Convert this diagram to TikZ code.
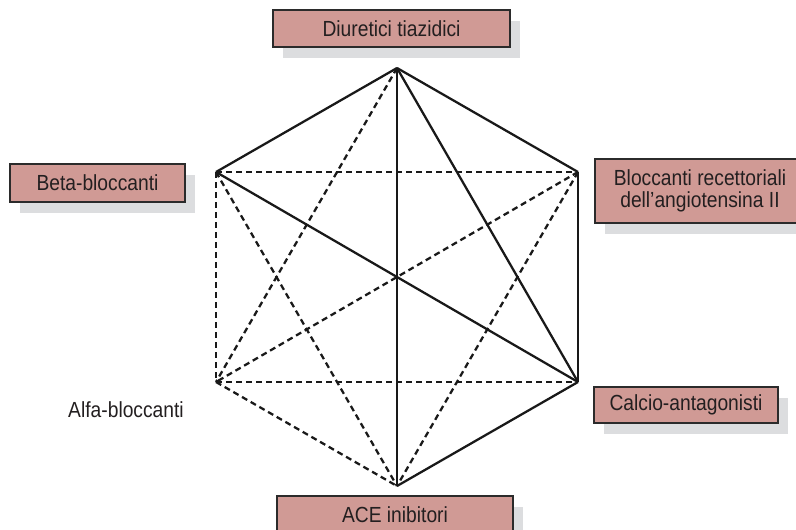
\documentclass[tikz,border=0pt]{standalone}
\usepackage{fontspec}
\setmainfont{Liberation Sans}[FakeStretch=0.88]
\usetikzlibrary{shadows}
\definecolor{boxfill}{HTML}{D09A95}
\definecolor{boxline}{HTML}{2B2B2B}
\definecolor{shadegray}{HTML}{DCDDDF}
\definecolor{textgray}{HTML}{231F20}
\begin{document}
\begin{tikzpicture}[x=0.75pt, y=-0.75pt,
  every node/.style={font=\fontsize{16.4}{16.4}\selectfont, text=textgray},
  drug/.style={draw=boxline, line width=1pt, fill=boxfill, inner sep=0pt, align=center,
    drop shadow={shadow xshift=7.5pt, shadow yshift=-8.25pt, fill=shadegray, opacity=1}},
  edge/.style={line width=1.7pt, draw=black!90},
  weak/.style={edge, dash pattern=on 4.5pt off 3pt}]
  \useasboundingbox (0, 0) rectangle (796, 529);
  \clip (0, 0) rectangle (796, 529);

  % hexagon corners
  \coordinate (t) at (397, 68);
  \coordinate (ur) at (578, 172);
  \coordinate (lr) at (578, 382);
  \coordinate (b) at (397, 486);
  \coordinate (ll) at (216, 382);
  \coordinate (ul) at (216, 172);

  \draw[weak] (ul) -- (ur);
  \draw[weak] (ul) -- (ll);
  \draw[weak] (ul) -- (b);
  \draw[weak] (ur) -- (ll);
  \draw[weak] (ur) -- (b);
  \draw[weak] (ll) -- (lr);
  \draw[weak] (ll) -- (b);
  \draw[weak] (t) -- (ll);

  \draw[edge] (t) -- (ur);
  \draw[edge] (t) -- (ul);
  \draw[edge] (t) -- (b);
  \draw[edge] (t) -- (lr);
  \draw[edge] (ur) -- (lr);
  \draw[edge] (lr) -- (b);
  \draw[edge] (ul) -- (lr);

  \node (diuretici) [drug, minimum width=177.75pt, minimum height=27.75pt] at (391.5, 28.5) {Diuretici tiazidici};
  \node (beta) [drug, minimum width=131.25pt, minimum height=28.5pt] at (97.5, 183) {Beta-bloccanti};
  \node (sartani) [drug, minimum width=157.5pt, minimum height=48pt] at (700, 191) {Bloccanti recettoriali\\dell'angiotensina II};
  \node (calcio) [drug, minimum width=138pt, minimum height=27pt] at (686, 405) {Calcio-antagonisti};
  \node (ace) [drug, minimum width=177pt, minimum height=28.5pt] at (395, 515) {ACE inibitori};
  \node (alfa) at (126, 410) {Alfa-bloccanti};
\end{tikzpicture}
\end{document}
